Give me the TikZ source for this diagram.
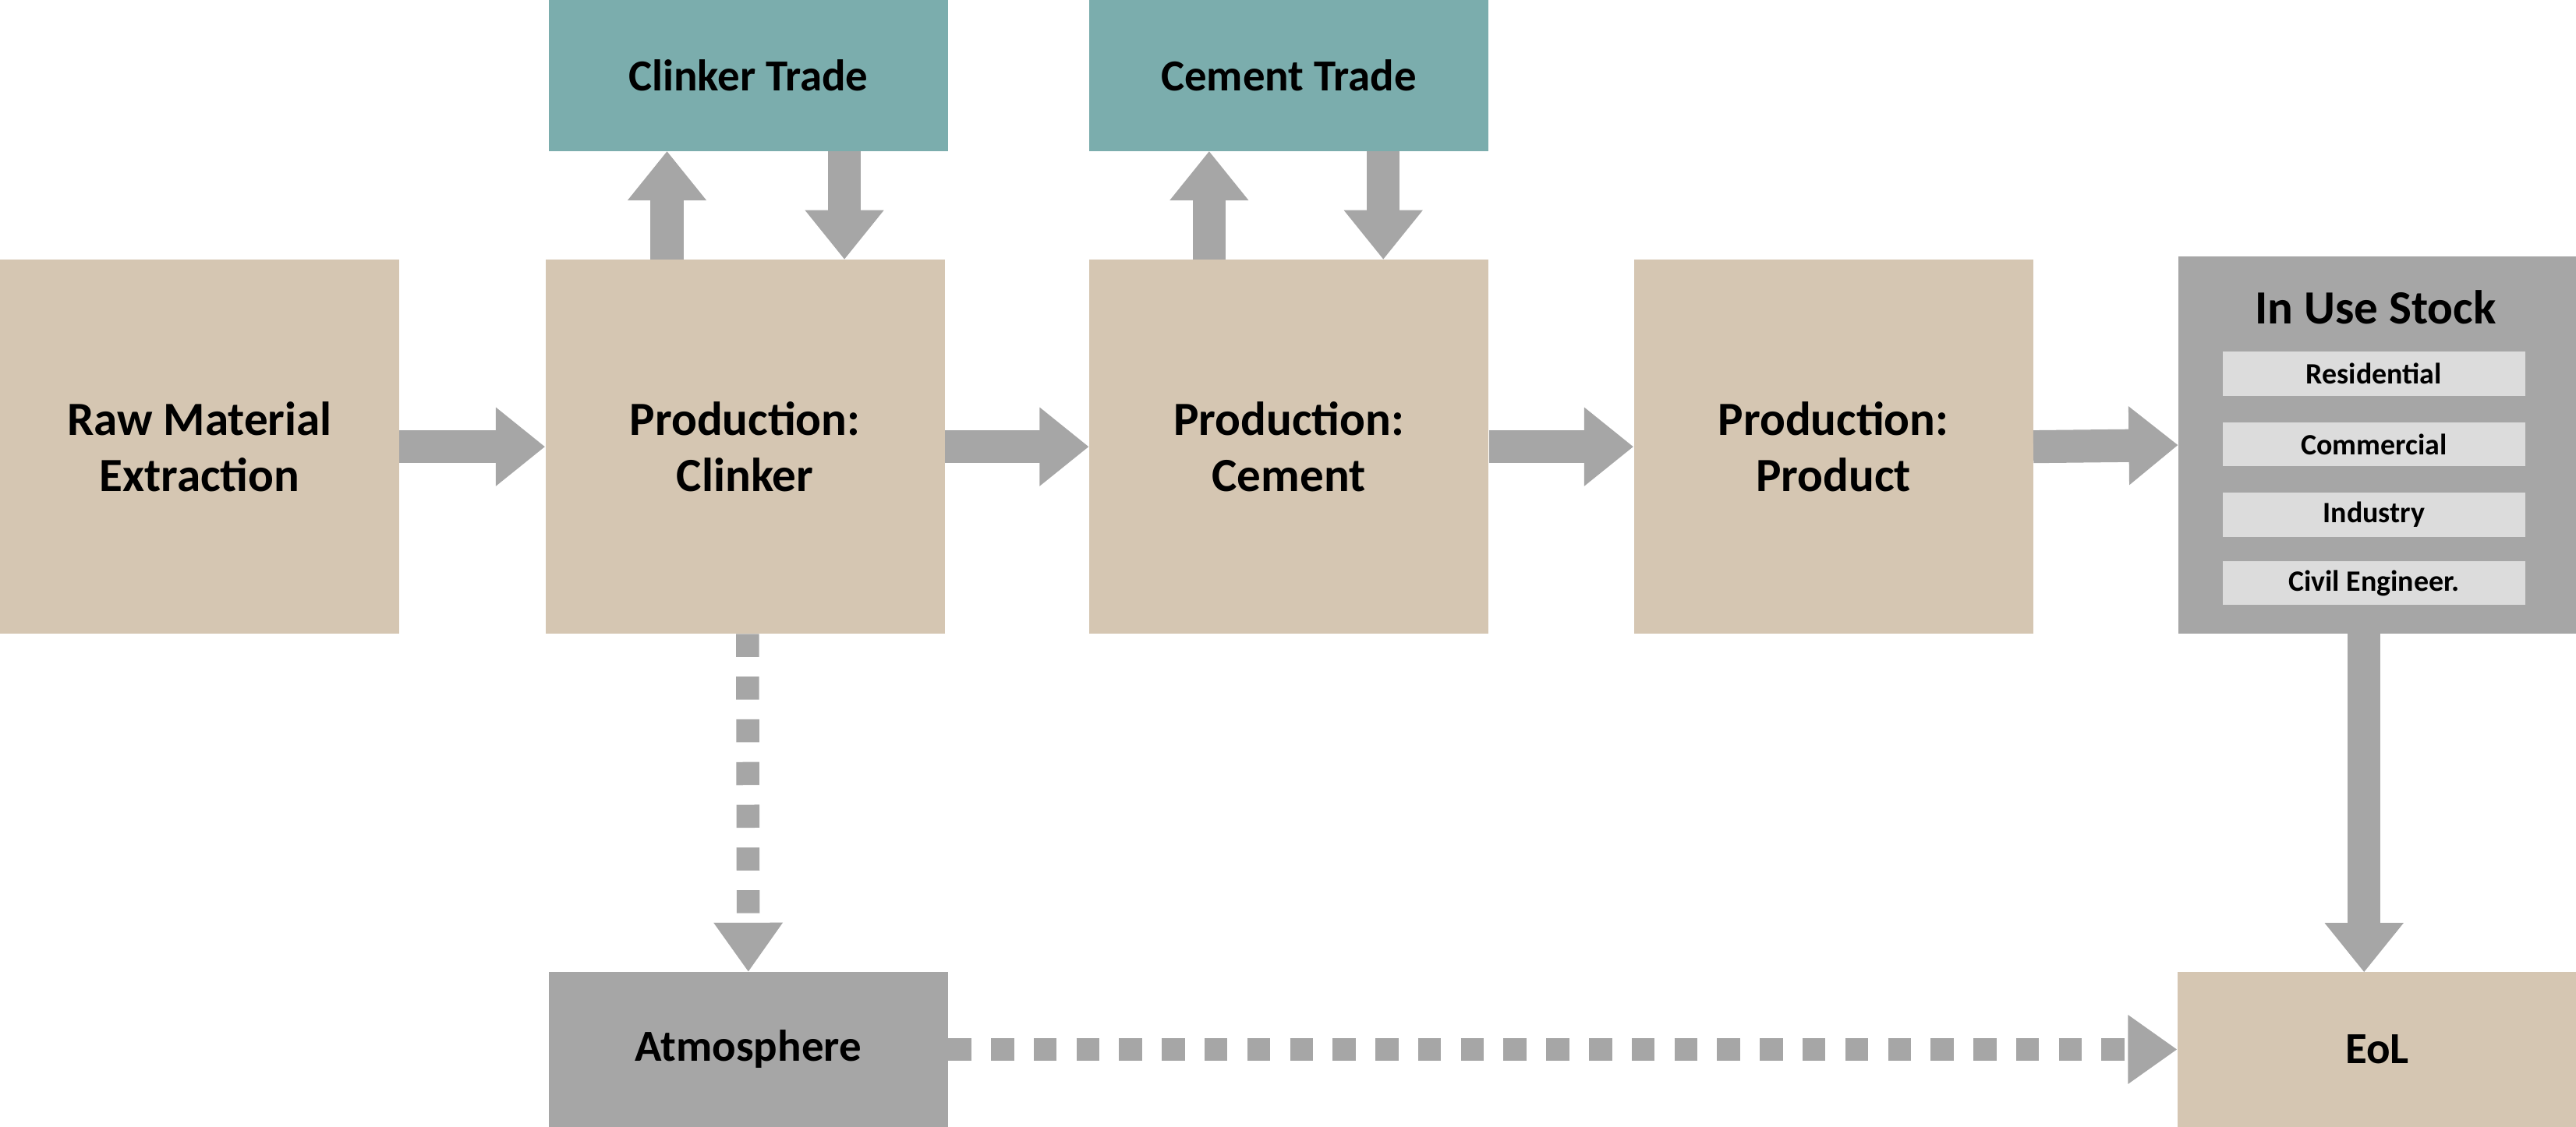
\documentclass[tikz,border=0pt]{standalone}
\usepackage{fontspec}
\setmainfont{Carlito}
\usetikzlibrary{arrows.meta}
\definecolor{beige}{HTML}{D5C6B2}
\definecolor{teal}{HTML}{7BADAD}
\definecolor{flowgray}{HTML}{A6A6A6}
\definecolor{subgray}{HTML}{DCDCDC}
\begin{document}
\begin{tikzpicture}[x=1pt,y=-1pt,
  stage/.style={fill=beige,minimum width=243pt,minimum height=228pt,align=center,font=\fontsize{29}{34}\selectfont\bfseries,inner sep=0pt},
  trade/.style={fill=teal,minimum width=243pt,minimum height=92pt,font=\fontsize{27}{32}\selectfont\bfseries,inner sep=0pt},
  sink/.style={minimum width=243pt,minimum height=94pt,font=\fontsize{27}{32}\selectfont\bfseries,inner sep=0pt},
  sub/.style={fill=subgray,minimum width=184pt,minimum height=27pt,font=\fontsize{18}{20}\selectfont\bfseries,inner sep=0pt},
  flow/.style={draw=flowgray,line width=20pt,-{Triangle[length=30pt,width=46pt]}},
  dflow/.style={draw=flowgray,line width=14pt,dash pattern=on 14pt off 12pt,-{Triangle[length=30pt,width=40pt]}}]
\useasboundingbox (0,0) rectangle (1568,686);
% stages
\node[stage] (raw) at (121.5,272) {Raw Material\\Extraction};
\node[stage] (clinker) at (453.5,272) {Production:\\Clinker};
\node[stage] (cement) at (784.5,272) {Production:\\Cement};
\node[stage] (product) at (1116,272) {Production:\\Product};
\node[fill=flowgray,minimum width=242pt,minimum height=230pt,inner sep=0pt] (stock) at (1447,271) {};
\node[font=\fontsize{29}{34}\selectfont\bfseries] (stocktitle) at (1446,187) {In Use Stock};
\node[sub] (res) at (1445,227.5) {Residential};
\node[sub] (com) at (1445,270.5) {Commercial};
\node[sub] (ind) at (1445,313.5) {Industry};
\node[sub] (civ) at (1445,355) {Civil Engineer.};
% trade
\node[trade] (ctrade) at (455.5,46) {Clinker Trade};
\node[trade] (mtrade) at (784.5,46) {Cement Trade};
% sinks
\node[sink,fill=flowgray] (atmo) at (455.5,639) {Atmosphere};
\node[sink,fill=beige] (eol) at (1447,639) {EoL};
% flows
\draw[flow] (raw.east) -- (clinker.west);
\draw[flow] (clinker.east) -- (cement.west);
\draw[flow] (cement.east) -- (product.west);
\draw[flow] (product.east) -- (stock.west);
\draw[flow] (406,158) -- (406,92);
\draw[flow] (514,92) -- (514,158);
\draw[flow] (736,158) -- (736,92);
\draw[flow] (842,92) -- (842,158);
\draw[flow] (1439,386) -- (1439,592);
\draw[dflow] (455,386) -- (atmo.north);
\draw[dflow] (atmo.east) -- (eol.west);
\end{tikzpicture}
\end{document}
